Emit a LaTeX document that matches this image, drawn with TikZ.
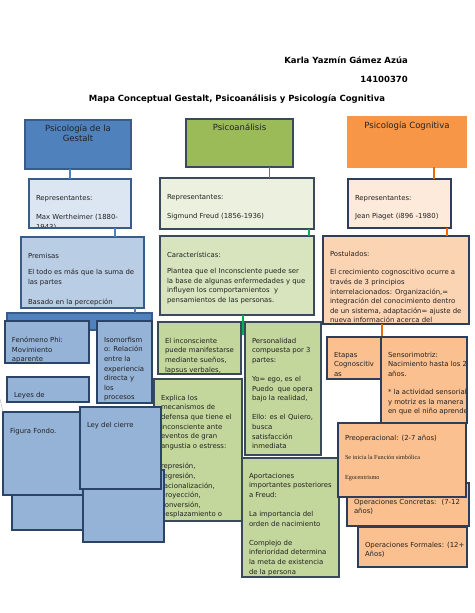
\documentclass[tikz,border=0pt]{standalone}
\usepackage{fontspec}
\setmainfont{DejaVu Sans}
\newfontfamily\serifsmall{Liberation Serif}

\definecolor{ink}{HTML}{222222}
\definecolor{bhead}{HTML}{4F81BD}
\definecolor{bdark}{HTML}{385D8A}
\definecolor{bnavy}{HTML}{2A4468}
\definecolor{brep}{HTML}{DCE6F2}
\definecolor{bprem}{HTML}{B9CDE5}
\definecolor{blow}{HTML}{95B3D7}
\definecolor{ghead}{HTML}{9BBB59}
\definecolor{gdark}{HTML}{3B4A58}
\definecolor{grep}{HTML}{EBF1DE}
\definecolor{gcar}{HTML}{D7E4BD}
\definecolor{glow}{HTML}{C3D69B}
\definecolor{gline}{HTML}{00B050}
\definecolor{ohead}{HTML}{F79646}
\definecolor{orep}{HTML}{FDEADA}
\definecolor{opost}{HTML}{FBD4B4}
\definecolor{olow}{HTML}{FAC090}
\definecolor{onavy}{HTML}{2C3E5C}
\definecolor{oline}{HTML}{E46C0A}

\newcommand{\mapbody}{\fontsize{6.9}{9.6}\selectfont}
\newcommand{\maphead}{\fontsize{8.5}{10}\selectfont}
\newcommand{\tinyserif}{\serifsmall\fontsize{6.2}{7}\selectfont}

\tikzset{
  bodydrop/.initial=16pt,
  box/.style={rectangle, anchor=north west, inner sep=0pt, outer sep=0pt, line width=1.2pt},
  plaintext/.style={draw=none, fill=none, minimum width=0pt, minimum height=0pt, inner sep=0pt, text=ink},
  body/.style={path picture={\node[plaintext, anchor=north west, align=left, font=\mapbody]
    at ([shift={(7pt,-\pgfkeysvalueof{/tikz/bodydrop})}]path picture bounding box.north west) {#1};}},
  head/.style={path picture={\node[plaintext, anchor=north, align=center, font=\maphead]
    at ([yshift=-4.5pt]path picture bounding box.north) {#1};}},
  titletext/.style={font=\fontsize{8.5}{10}\selectfont\bfseries, text=black, inner sep=0pt},
  bconn/.style={draw=bhead, line width=1.8pt},
  gconn/.style={draw=gline, line width=1.8pt},
  oconn/.style={draw=oline, line width=1.8pt},
}

\begin{document}
\begin{tikzpicture}[x=1pt,y=-1pt]
  \fill[white] (0,0) rectangle (474,613);
  \useasboundingbox (0,0) rectangle (474,613);

  % titulos
  \node[titletext, anchor=east] (autor) at (408,60) {Karla Yazmín Gámez Azúa};
  \node[titletext, anchor=east] (matricula) at (408,79) {14100370};
  \node[titletext] (titulo) at (237,99) {Mapa Conceptual Gestalt, Psicoanálisis y Psicología Cognitiva};

  % Gestalt
  \node[box, fill=bhead, draw=bdark, minimum width=106pt, minimum height=49pt,
    head={Psicología de la\\Gestalt}] (gh) at (25,120) {};
  \node[box, fill=brep, draw=bdark, minimum width=102pt, minimum height=49pt,
    body={Representantes:\\[10pt]Max Wertheimer (1880-\\1943)}] (grep) at (29,179) {};
  \node[box, fill=bprem, draw=bdark, minimum width=123pt, minimum height=71pt,
    body={Premisas\\[7pt]El todo es más que la suma de\\las partes\\[10pt]Basado en la percepción}] (prem) at (21,237) {};
  \draw[bconn] ([xshift=-8pt]gh.south) -- ([xshift=-8pt]gh.south |- grep.north);
  \draw[bconn] ([xshift=-16pt]grep.south east) -- ([xshift=-16pt]grep.south east |- prem.north);

  \node[box, fill=bhead, draw=bdark, minimum width=145pt, minimum height=17pt] (leyhead) at (7,313) {};
  \draw[bconn] ([xshift=-9pt]prem.south east) -- ([xshift=-9pt]prem.south east |- leyhead.north);
  \node[box, fill=blow, draw=bnavy, minimum width=84pt, minimum height=42pt,
    body={Fenómeno Phi:\\Movimiento\\aparente}] (phi) at (5,321) {};
  \node[box, fill=blow, draw=bnavy, minimum width=55pt, minimum height=82pt,
    body={Isomorfism\\o: Relación\\entre la\\experiencia\\directa y\\los\\procesos}] (iso) at (97,321) {};
  \node[box, fill=blow, draw=bnavy, minimum width=82pt, minimum height=25pt, bodydrop=15pt,
    body={Leyes de}] (leyes) at (7,377) {};

  % Psicoanalisis
  \node[box, fill=ghead, draw=gdark, minimum width=107pt, minimum height=48pt,
    head={Psicoanálisis}] (ph) at (186,119) {};
  \node[box, fill=grep, draw=gdark, minimum width=154pt, minimum height=51pt,
    body={Representantes:\\[9.5pt]Sigmund Freud (1856-1936)}] (frep) at (160,178) {};
  \node[box, fill=gcar, draw=gdark, minimum width=154pt, minimum height=79pt,
    body={Características:\\[6.5pt]Plantea que el Inconsciente puede ser\\la base de algunas enfermedades y que\\influyen los comportamientos~ y\\pensamientos de las personas.}] (car) at (160,236) {};
  \coordinate (carfin) at ([shift={(6pt,-20pt)}]car.south);
  \draw[gconn] ([xshift=30pt]ph.south) -- ([xshift=30pt]ph.south |- frep.north);
  \draw[gconn] ([xshift=-5pt]frep.south east) -- ([xshift=-5pt]frep.south east |- car.north);
  \draw[gconn] ([xshift=6pt]car.south) -- (carfin);
  \node[box, fill=glow, draw=gdark, minimum width=83pt, minimum height=52pt,
    body={El inconsciente\\puede manifestarse\\mediante sueños,\\lapsus verbales,}] (inc) at (158,322) {};
  \node[box, fill=glow, draw=gdark, minimum width=76pt, minimum height=133pt,
    body={Personalidad\\compuesta por 3\\partes:\\[9.5pt]Yo= ego, es el\\Puedo~ que opera\\bajo la realidad,\\[9.5pt]Ello: es el Quiero,\\busca\\satisfacción\\inmediata}] (pers) at (245,322) {};
  \node[box, fill=glow, draw=gdark, minimum width=88pt, minimum height=142pt,
    body={Explica los\\mecanismos de\\defensa que tiene el\\inconsciente ante\\eventos de gran\\angustia o estress:\\[11pt]represión,\\regresión,\\racionalización,\\proyección,\\conversión,\\desplazamiento o}] (expl) at (154,379) {};
  \node[box, fill=glow, draw=gdark, minimum width=97pt, minimum height=119pt, bodydrop=15pt,
    body={Aportaciones\\importantes posteriores\\a Freud:\\[9.5pt]La importancia del\\orden de nacimiento\\[9.5pt]Complejo de\\inferioridad determina\\la meta de existencia\\de la persona}] (apor) at (242,458) {};

  % leyes de la Gestalt (encima)
  \coordinate (borde) at (0,399);
  \node[box, fill=blow, draw=bnavy, minimum width=77pt, minimum height=60pt] (figatras) at (12,470) {};
  \node[box, fill=blow, draw=bnavy, minimum width=81pt, minimum height=72pt] (cierreatras) at (83,470) {};
  \node[box, fill=blow, draw=bnavy, minimum width=80pt, minimum height=83pt,
    body={Figura Fondo.}] (fig) at (3,412) {};
  \node[box, fill=blow, draw=bnavy, minimum width=81pt, minimum height=82pt, bodydrop=15pt,
    body={Ley del cierre}] (cierre) at (80,407) {};
  \draw[black!30, thin] (borde) -- (fig.north west);

  % Psicologia Cognitiva
  \node[box, fill=ohead, draw=ohead, minimum width=118pt, minimum height=50pt,
    head={Psicología Cognitiva}] (ch) at (348,117) {};
  \node[box, fill=orep, draw=onavy, minimum width=103pt, minimum height=49pt,
    body={Representantes:\\[8.5pt]Jean Piaget (i896 -1980)}] (prep) at (348,179) {};
  \node[box, fill=opost, draw=onavy, minimum width=146pt, minimum height=88pt, bodydrop=15pt,
    body={Postulados:\\[9pt]El crecimiento cognoscitivo ocurre a\\través de 3 principios\\interrelacionados: Organización,=\\integración del conocimiento dentro\\de un sistema, adaptación= ajuste de\\nueva información acerca del}] (post) at (323,236) {};
  \draw[oconn] ([xshift=27pt]ch.south) -- ([xshift=27pt]ch.south |- prep.north);
  \draw[oconn] ([xshift=-4pt]prep.south east) -- ([xshift=-4pt]prep.south east |- post.north);
  \node[box, fill=olow, draw=onavy, minimum width=55pt, minimum height=42pt, bodydrop=15pt,
    body={Etapas\\Cognoscitiv\\as}] (etap) at (327,337) {};
  \draw[oconn] (etap.north east |- post.south) -- (etap.north east);
  \node[box, fill=olow, draw=onavy, minimum width=86pt, minimum height=86pt, bodydrop=15pt,
    body={Sensorimotriz:\\Nacimiento hasta los 2\\años.\\[8.5pt]* la actividad sensorial\\y motriz es la manera\\en que el niño aprende}] (sens) at (381,337) {};
  \node[box, fill=olow, draw=onavy, minimum width=122pt, minimum height=43pt,
    body={Operaciones Concretas:~ (7-12\\años)}] (opc) at (347,483) {};
  \node[box, fill=olow, draw=onavy, minimum width=128pt, minimum height=74pt, bodydrop=12pt,
    body={Preoperacional: (2-7 años)\\[10pt]{\tinyserif Se inicia la Función simbólica}\\[10pt]{\tinyserif Egocentrismo}}] (preop) at (338,423) {};
  \node[box, fill=olow, draw=onavy, minimum width=109pt, minimum height=40pt, bodydrop=15pt,
    body={Operaciones Formales: (12+\\Años)}] (opf) at (358,527) {};
\end{tikzpicture}
\end{document}
